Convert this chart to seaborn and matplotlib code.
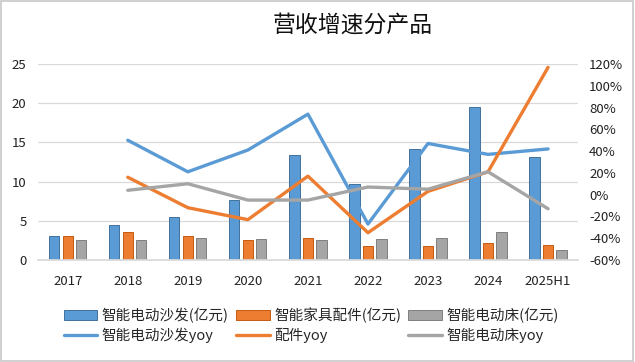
import numpy as np
import pandas as pd
import matplotlib
matplotlib.use('Agg')
import matplotlib.pyplot as plt
import seaborn as sns
from matplotlib.patches import Patch, Rectangle
from matplotlib.lines import Line2D
from matplotlib.ticker import PercentFormatter

# data
years = ['2017', '2018', '2019', '2020', '2021', '2022', '2023', '2024', '2025H1']
sofa = [3.1, 4.5, 5.5, 7.7, 13.4, 9.7, 14.2, 19.5, 13.2]
parts = [3.1, 3.6, 3.1, 2.5, 2.8, 1.8, 1.8, 2.2, 1.9]
bed = [2.5, 2.6, 2.8, 2.7, 2.6, 2.7, 2.8, 3.5, 1.3]
sofa_yoy = [np.nan, 0.50, 0.21, 0.41, 0.74, -0.27, 0.47, 0.37, 0.42]
parts_yoy = [np.nan, 0.16, -0.12, -0.23, 0.17, -0.35, 0.03, 0.21, 1.17]
bed_yoy = [np.nan, 0.04, 0.10, -0.05, -0.05, 0.07, 0.05, 0.21, -0.13]

bar_names = ['智能电动沙发(亿元)', '智能家具配件(亿元)', '智能电动床(亿元)']
line_names = ['智能电动沙发yoy', '配件yoy', '智能电动床yoy']
colors = ['#5B9BD5', '#ED7D31', '#A5A5A5']
edges = ['#41719C', '#C55A11', '#7F7F7F']

sns.set_theme(style='white')
plt.rcParams['font.family'] = ['Noto Sans CJK SC', 'DejaVu Sans']
plt.rcParams['axes.unicode_minus'] = False

fig = plt.figure(figsize=(6.35, 3.62), dpi=100)
ax = fig.add_axes([0.0594, 0.282, 0.851, 0.541])

bars = pd.DataFrame({'year': years, bar_names[0]: sofa,
                     bar_names[1]: parts, bar_names[2]: bed})
bars_long = bars.melt(id_vars='year', var_name='series', value_name='value')
sns.barplot(data=bars_long, x='year', y='value', hue='series',
            palette=colors, width=0.675, gap=0.245, saturation=1,
            legend=False, ax=ax)
for cont, ec in zip(ax.containers, edges):
    for p in cont:
        p.set_edgecolor(ec)
        p.set_linewidth(0.7)

ax.set_ylim(0, 25)
ax.set_yticks(range(0, 26, 5))
ax.yaxis.grid(True, color='#D9D9D9', lw=0.9)
ax.set_axisbelow(True)
ax.set_xlabel('')
ax.set_ylabel('')
for s in ['top', 'right', 'left']:
    ax.spines[s].set_visible(False)
ax.spines['bottom'].set_color('#D9D9D9')
ax.tick_params(axis='both', length=0, labelsize=9.5, colors='#222222')
ax.tick_params(axis='x', pad=11)
ax.tick_params(axis='y', pad=8)

ax2 = ax.twinx()
pos = np.arange(len(years))
for vals, name, c in zip([sofa_yoy, parts_yoy, bed_yoy], line_names, colors):
    d = pd.DataFrame({'pos': pos, 'yoy': vals}).dropna()
    sns.lineplot(data=d, x='pos', y='yoy', color=c, lw=2.4, ax=ax2)
ax2.set_ylim(-0.6, 1.2)
ax2.set_yticks(np.arange(-0.6, 1.21, 0.2))
ax2.yaxis.set_major_formatter(PercentFormatter(1.0, decimals=0))
ax2.set_ylabel('')
ax2.grid(False)
for s in ax2.spines.values():
    s.set_visible(False)
ax2.tick_params(axis='y', length=0, labelsize=9.5, colors='#222222', pad=8)
ax.set_xlim(-0.5, len(years) - 0.5)

fig.text(0.556, 0.931, '营收增速分产品', ha='center', va='center',
         fontsize=16.5, color='#111111')

handles = []
for i in range(3):
    handles.append(Patch(facecolor=colors[i], edgecolor=edges[i], lw=0.7))
    handles.append(Line2D([], [], color=colors[i], lw=2.4))
labels = []
for i in range(3):
    labels += [bar_names[i], line_names[i]]
fig.legend(handles, labels, ncol=3, loc='center', bbox_to_anchor=(0.49, 0.101),
           frameon=False, fontsize=10.5, handlelength=2.3, handleheight=0.7,
           handletextpad=0.3, columnspacing=0.5, labelspacing=0.35)

fig.patches.append(Rectangle((0.002, 0.004), 0.995, 0.992, transform=fig.transFigure,
                             fill=False, edgecolor='#C8C8C8', lw=1.2))

fig.savefig('out.png', dpi=100)
